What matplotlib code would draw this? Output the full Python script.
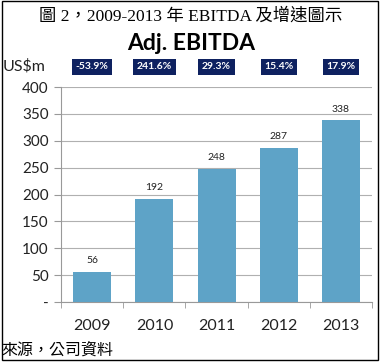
import matplotlib.pyplot as plt
from matplotlib.patches import Rectangle

# 數據
years = ['2009', '2010', '2011', '2012', '2013']
ebitda = [56, 192, 248, 287, 338]
growth = ['-53.9%', '241.6%', '29.3%', '15.4%', '17.9%']
yticks = [0, 50, 100, 150, 200, 250, 300, 350, 400]
ytick_labels = ['-', '50', '100', '150', '200', '250', '300', '350', '400']

plt.rcParams['font.family'] = ['Lato', 'DejaVu Sans']

fig = plt.figure(figsize=(3.82, 3.63), dpi=100)
ax = fig.add_axes([0.160, 0.168, 0.814, 0.592])

x = range(len(years))
ax.bar(x, ebitda, width=0.61, color='#5ea3c7', zorder=3)
for i, v in enumerate(ebitda):
    ax.text(i, v + 12, str(v), ha='center', va='bottom', fontsize=7.5, color='#222222')

ax.set_xlim(-0.5, 4.5)
ax.set_ylim(0, 400)
ax.set_yticks(yticks)
ax.set_yticklabels(ytick_labels, fontsize=11, color='#222222')
ax.set_xticks(list(x))
ax.set_xticklabels(years, fontsize=11.5, color='#222222')
ax.set_xticks([i - 0.5 for i in range(6)], minor=True)
ax.tick_params(axis='x', which='major', length=0, pad=12)
ax.tick_params(axis='x', which='minor', length=4, color='#999999', direction='out')
ax.tick_params(axis='y', length=5, color='#999999', pad=4)
ax.grid(axis='y', color='#b0b0b0', linewidth=0.8, zorder=0)
for s in ['top', 'right']:
    ax.spines[s].set_visible(False)
ax.spines['left'].set_color('#999999')
ax.spines['bottom'].set_color('#999999')

# 增速標籤
for i, g in enumerate(growth):
    ax.text(i, 1.095, g, transform=ax.get_xaxis_transform(), ha='center', va='center',
            fontsize=7.5, fontweight='bold', color='white',
            bbox=dict(boxstyle='square,pad=0.35', facecolor='#0e2160', edgecolor='none'))

fig.text(0.5, 0.955, '圖 2，2009-2013 年 EBITDA 及增速圖示', ha='center', va='center',
         fontsize=12.5, family=['Liberation Serif', 'Noto Sans CJK TC'], fontweight='light')
fig.text(0.5, 0.88, 'Adj. EBITDA', ha='center', va='center', fontsize=16.5, fontweight='bold')
fig.text(0.008, 0.818, 'US$m', ha='left', va='center', fontsize=11.5, color='#222222')
fig.text(0.003, 0.035, '來源，公司資料', ha='left', va='center', fontsize=11.5,
         family=['Noto Sans CJK TC', 'DejaVu Sans'], fontweight='light')

fig.patches.append(Rectangle((0.004, 0.008), 0.985, 0.988, transform=fig.transFigure,
                             fill=False, edgecolor='black', linewidth=1))

fig.savefig('out.png', dpi=100)
